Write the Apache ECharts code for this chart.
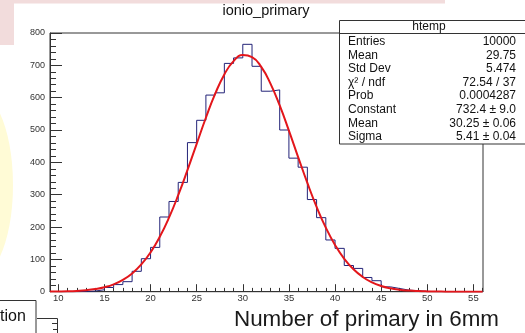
<!DOCTYPE html>
<html>
<head>
<meta charset="utf-8">
<script src="https://cdn.jsdelivr.net/npm/echarts@6/dist/echarts.min.js"></script>
<style>
html,body{margin:0;padding:0;background:#fff;}
#chart{width:525px;height:333px;}
</style>
</head>
<body>
<div id="chart"></div>
<script>
// Histogram bins: left edges (bin width 1) and entries
var binEdges = [10,11,12,13,14,15,16,17,18,19,20,21,22,23,24,25,26,27,28,29,30,31,32,33,34,35,36,37,38,39,40,41,42,43,44,45,46,47,48,49,50,51,52,53,54,55];
var counts   = [0,0,1,2,6,13,22,31,63,102,137,231,279,338,461,530,608,615,706,723,765,697,620,624,500,413,385,285,229,160,134,81,72,44,34,15,10,5,3,1,0,0,0,0,0,0];
// Fit curve
var fitX = [9.1,10,11,12,13,14,15,16,17,18,19,20,21,22,23,24,25,26,27,28,29,30,31,32,33,34,35,36,37,38,39,40,41,42,43,44,45,46,47,48,49,50,51,52,53,54,55,56];
var fitY = [0.3,0.7,1.3,2.5,4.5,8.1,13.8,22.8,36.5,56.4,84.3,121.7,169.8,228.9,298.4,375.8,457.3,537.9,611.5,671.7,713.1,731.6,725.4,695.1,643.6,576.0,498.2,416.4,336.3,262.5,198.0,144.4,101.7,69.3,45.6,29.0,17.8,10.6,6.1,3.4,1.8,0.9,0.5,0.2,0.1,0.05,0.02,0.01];
var xMajorTicks = [10,15,20,25,30,35,40,45,50,55];
var yTicks = [0,100,200,300,400,500,600,700,800];
var titleText = 'ionio_primary';
var xTitle = 'Number of primary in 6mm';
var statsTitle = 'htemp';
var statsLabels = ['Entries','Mean','Std Dev','\u03C7\u00B2 / ndf','Prob','Constant','Mean','Sigma'];
var statsValues = ['10000','29.75','5.474','72.54 / 37','0.0004287','732.4 \u00B1 9.0','30.25 \u00B1 0.06','5.41 \u00B1 0.04'];

var xMinorTicks = [];
for (var t = 10; t <= 56; t++) xMinorTicks.push(t);

var histData = binEdges.map(function (e, i) { return [e, counts[i]]; });
histData.push([binEdges[binEdges.length - 1] + 1, 0]);
var fitData = fitX.map(function (x, i) { return [x, fitY[i]]; });

var FONT = 'Liberation Sans';
var chart = echarts.init(document.getElementById('chart'), null, {renderer: 'canvas'});

var graphics = [
  // background artifacts
  {type: 'rect', shape: {x: 0, y: 0, width: 445, height: 3.5}, style: {fill: '#f2dcdc'}, z: -10, silent: true},
  {type: 'rect', shape: {x: 0, y: 0, width: 14, height: 45}, style: {fill: '#f2dcdc'}, z: -10, silent: true},
  {type: 'ellipse', shape: {cx: -22, cy: 185, rx: 35, ry: 92}, style: {fill: '#fffbd6'}, z: -10, silent: true},
  // title
  {type: 'text', x: 266, y: 10.5, style: {text: titleText, font: '14.5px "' + FONT + '"', fill: '#111', align: 'center', verticalAlign: 'middle'}},
  // x axis title
  {type: 'text', x: 234, y: 319.5, style: {text: xTitle, font: '22.4px "' + FONT + '"', fill: '#1a1a1a', align: 'left', verticalAlign: 'middle'}},
  // bottom-left legend fragment
  {type: 'rect', shape: {x: -5, y: 300.5, width: 41, height: 40}, style: {fill: '#fff', stroke: '#333', lineWidth: 1}},
  {type: 'text', x: 0, y: 317, style: {text: 'tion', font: '16px "' + FONT + '"', fill: '#111', align: 'left', verticalAlign: 'middle'}},
  {type: 'polyline', shape: {points: [[37, 318.5], [57.5, 318.5], [57.5, 333]]}, style: {stroke: '#333', lineWidth: 1, fill: null}},
  {type: 'line', shape: {x1: 52, y1: 323.5, x2: 57.5, y2: 323.5}, style: {stroke: '#333', lineWidth: 1}},
  {type: 'line', shape: {x1: 53, y1: 329.5, x2: 57.5, y2: 329.5}, style: {stroke: '#333', lineWidth: 1}},
  // stats box
  {type: 'rect', shape: {x: 339.5, y: 20.5, width: 190, height: 123.5}, style: {fill: '#fff', stroke: '#333', lineWidth: 1}, z: 100},
  {type: 'line', shape: {x1: 339.5, y1: 33.5, x2: 525, y2: 33.5}, style: {stroke: '#333', lineWidth: 1}, z: 101},
  {type: 'text', x: 429, y: 27, style: {text: statsTitle, font: '12px "' + FONT + '"', fill: '#111', align: 'center', verticalAlign: 'middle'}, z: 101}
];
statsLabels.forEach(function (lab, i) {
  var y = 41.7 + i * 13.6;
  graphics.push({type: 'text', x: 348, y: y, style: {text: lab, font: '12px "' + FONT + '"', fill: '#111', align: 'left', verticalAlign: 'middle'}, z: 101});
  graphics.push({type: 'text', x: 516, y: y, style: {text: statsValues[i], font: '12px "' + FONT + '"', fill: '#111', align: 'right', verticalAlign: 'middle'}, z: 101});
});

var option = {
  backgroundColor: '#ffffff',
  animation: false,
  grid: {left: 50, right: 42, top: 33, bottom: 41.3, show: true, borderColor: '#333', borderWidth: 1, backgroundColor: 'transparent'},
  xAxis: [
    {
      type: 'value', min: 9.1, max: 56.04, position: 'bottom',
      axisLine: {show: true, onZero: false, lineStyle: {color: '#333', width: 1}},
      axisTick: {show: true, inside: true, length: 7.5, customValues: xMajorTicks, lineStyle: {color: '#333'}},
      axisLabel: {show: true, customValues: xMajorTicks, fontSize: 9.5, color: '#333', margin: 2, fontFamily: FONT},
      splitLine: {show: false}
    },
    {
      type: 'value', min: 9.1, max: 56.04, position: 'bottom',
      axisLine: {show: false, onZero: false},
      axisTick: {show: true, inside: true, length: 3.8, customValues: xMinorTicks, lineStyle: {color: '#333'}},
      axisLabel: {show: false},
      splitLine: {show: false}
    }
  ],
  yAxis: [{
    type: 'value', min: 0, max: 800, interval: 100,
    axisLine: {show: true, lineStyle: {color: '#333', width: 1}},
    axisTick: {show: true, inside: true, length: 12, lineStyle: {color: '#333'}},
    minorTick: {show: true, splitNumber: 5, length: 6, lineStyle: {color: '#333'}},
    axisLabel: {fontSize: 9, color: '#333', margin: 5, fontFamily: FONT,
      formatter: function (v) { return yTicks.indexOf(v) >= 0 ? String(v) : ''; }},
    splitLine: {show: false}
  }],
  series: [
    {
      type: 'line', xAxisIndex: 0, data: histData, step: 'end', symbol: 'none',
      lineStyle: {color: '#232378', width: 1}, z: 3, clip: true
    },
    {
      type: 'line', xAxisIndex: 0, data: fitData, smooth: true, symbol: 'none',
      lineStyle: {color: '#e3161b', width: 2}, z: 4, clip: true
    }
  ],
  graphic: graphics
};
chart.setOption(option);
</script>
</body>
</html>
